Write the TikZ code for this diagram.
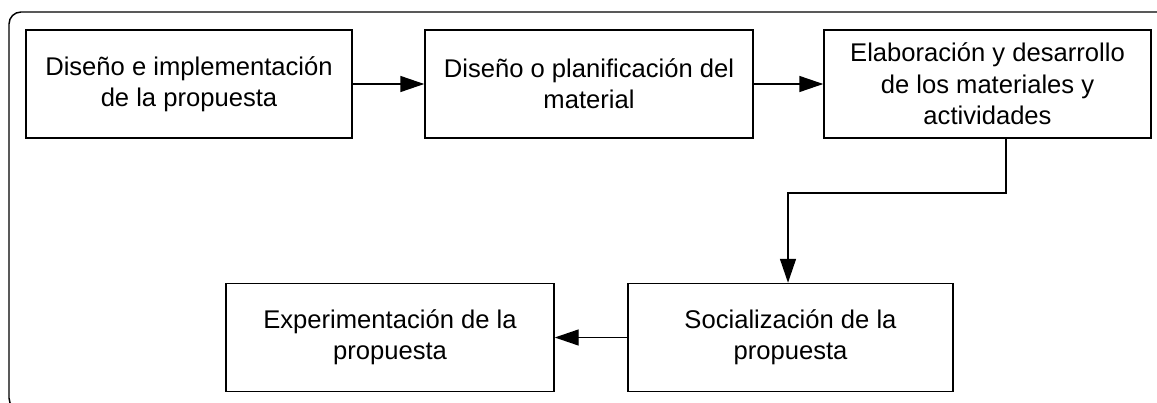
\documentclass[tikz,border=0pt]{standalone}
\usepackage{fontspec}
\setmainfont{Liberation Sans}
\usetikzlibrary{arrows.meta}
\begin{document}
\begin{tikzpicture}[x=0.75pt,y=-0.75pt,
  stepbox/.style={draw=black,line width=1.1pt,minimum width=#1*0.75pt,minimum height=108*0.75pt,
    align=center,inner sep=0pt,font=\fontsize{19.2}{23.5}\selectfont},
  conn/.style={line width=1.1pt,-{Triangle[length=18pt,width=12pt]}},
  frame/.style={draw=black,line width=1.1pt,rounded corners=9pt}]
\useasboundingbox (0,0) rectangle (1157,403);
\begin{scope}
\clip (0,0) rectangle (1157,403);
\draw[frame] (9,12) rectangle (1180,410);
\end{scope}
\node[stepbox=326] (b1) at (189,84) {Diseño e implementación\\de la propuesta};
\node[stepbox=328] (b2) at (589,84) {Diseño o planificación del\\material};
\node[stepbox=327] (b3) at (987.5,84) {Elaboración y desarrollo\\de los materiales y\\actividades};
\node[stepbox=325] (b4) at (790.5,337.5) {Socialización de la\\propuesta};
\node[stepbox=328] (b5) at (390,337.5) {Experimentación de la\\propuesta};
\coordinate (bend) at (1006,193);
\draw[conn] (b1) -- (b2);
\draw[conn] (b2) -- (b3);
\draw[conn] (b3.south -| bend) -- (bend) -| ([xshift=-2.5*0.75pt]b4.north);
\draw[conn] (b4) -- (b5);
\end{tikzpicture}
\end{document}
